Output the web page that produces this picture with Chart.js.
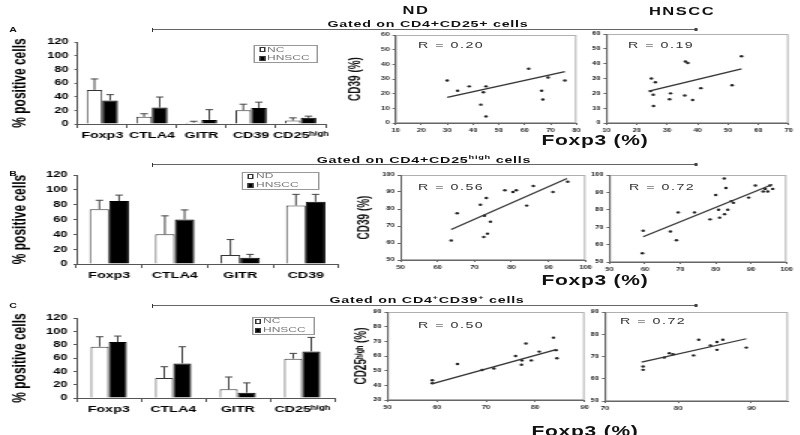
<!DOCTYPE html>
<html>
<head>
<meta charset="utf-8">
<script src="https://cdn.jsdelivr.net/npm/chart.js@4"></script>
<style>
html, body { margin: 0; padding: 0; background: #fff; overflow: hidden; }
#fig { position: absolute; left: 0; top: 0; width: 533.33px; height: 435px;
       transform: scaleX(1.5); transform-origin: 0 0;
       font-family: "Liberation Sans", Arial, sans-serif; color: #111; }
#fig div, #fig canvas { position: absolute; }
.t { white-space: nowrap; transform: translate(-50%, -50%); font-weight: bold; line-height: 1; }
.t sup { font-size: 0.65em; line-height: 0; }
</style>
</head>
<body>
<div id="fig"></div>
<script>
// ---- bar panels (mean, SD) ----
var catsA = ["Foxp3", "CTLA4", "GITR", "CD39", "CD25ʰⁱᵍʰ"];
var ncA = [50, 10.5, 2, 20, 5];
var ncSdA = [16, 4.5, 2, 9, 4];
var hnA = [34.5, 24, 6, 23.5, 9];
var hnSdA = [8.5, 15.5, 15, 8.5, 2.5];

var catsB = ["Foxp3", "CTLA4", "GITR", "CD39"];
var ndB = [74, 40, 12, 79];
var ndSdB = [12, 25, 21, 15];
var hnB = [85, 60, 8.5, 84];
var hnSdB = [8, 13, 4.5, 10];

var catsC = ["Foxp3", "CTLA4", "GITR", "CD25ʰⁱᵍʰ"];
var ncC = [77, 30, 13, 59];
var ncSdC = [15, 17, 18.5, 8];
var hnC = [84, 52, 8, 70];
var hnSdC = [9, 25, 14.7, 21];

// ---- scatter panels: Foxp3 (%) vs marker (%) ----
var ndAx = [30, 34, 38.5, 43, 44, 45, 45, 61.5, 69, 66.5, 67, 75.5];
var ndAy = [29, 22, 25, 12.5, 21, 25, 4.5, 37, 31, 22, 16, 29];
var ndAtx = [30, 75.5], ndAty = [17.5, 35];

var hnAx = [24.8, 26.1, 24.5, 25.4, 25.5, 31.1, 30.8, 35.8, 36, 36.8, 38.4, 41.1, 51.4, 54.5];
var hnAy = [30, 27.5, 21.5, 19, 11.5, 20, 16, 18.5, 41.5, 40.5, 15.5, 23.5, 25.5, 45];
var hnAtx = [24, 54.5], hnAty = [21.5, 36.5];

var ndBx = [63.7, 65.3, 71.6, 72.7, 72.5, 73.5, 73.2, 74.3, 78.2, 80.4, 81.3, 84.1, 85.9, 91.2, 95.2];
var ndBy = [61.5, 77.5, 82.5, 76, 63.5, 65.5, 86.5, 72.5, 91, 90, 91, 82, 93.5, 90, 96];
var ndBtx = [63.7, 95], ndBty = [68, 98];

var hnBx = [59.3, 59.5, 67.2, 68.9, 69.4, 74, 78.4, 80, 80.8, 81.1, 82.4, 82.9, 82.5, 83.4, 84.4, 85, 89.3, 91.2, 93.4, 94.7, 94, 96.1, 95.3];
var hnBy = [55, 68, 67.5, 62.5, 78.5, 78.5, 74.5, 88.5, 80, 75.5, 98, 92.5, 77.5, 80, 85, 84, 87, 94, 90.5, 90.5, 92, 92, 94];
var hnBtx = [59.5, 96], hnBty = [64.5, 94.5];

var ndCx = [59.1, 59.1, 64.2, 69.2, 71.6, 76, 77.2, 77.3, 78.1, 79.2, 80.8, 83.7, 84.2, 84.4];
var ndCy = [43.5, 41.5, 54.5, 50.5, 51.5, 60, 54, 57, 68.5, 57, 63, 72.5, 64, 58.5];
var ndCtx = [59, 84.4], ndCty = [41, 64.5];

var hnCx = [75.2, 75.2, 78.1, 78.8, 79.3, 82.1, 82.8, 84.4, 85.3, 85.3, 86.1, 89.3];
var hnCy = [65.5, 64, 69.5, 71.5, 71, 70.5, 77.5, 75, 73, 76.5, 77.5, 74];
var hnCtx = [75, 89.3], hnCty = [67.5, 78];

var rValues = ["0.20", "0.19", "0.56", "0.72", "0.50", "0.72"];

Chart.defaults.font.family = '"Liberation Sans", Arial, sans-serif';
Chart.defaults.color = "#111";
Chart.defaults.animation = false;

// the old figure is stretched sideways, so everything is drawn narrow and scaled
var SX = 1.5;
var fig = document.getElementById("fig");

function box(x, y, w, h) {
  var d = document.createElement("div");
  d.style.left = (x / SX) + "px";
  d.style.top = y + "px";
  if (w != null) d.style.width = (w / SX) + "px";
  if (h != null) d.style.height = h + "px";
  fig.appendChild(d);
  return d;
}

function label(html, x, y, size, o) {
  o = o || {};
  var d = box(x, y);
  d.className = "t";
  d.innerHTML = html;
  d.style.fontSize = size + "px";
  if (o.left) d.style.transform = "translate(0,-50%)";
  if (o.weight) d.style.fontWeight = o.weight;
  if (o.color) d.style.color = o.color;
  if (o.ls) d.style.letterSpacing = o.ls + "px";
  return d;
}

function bracket(y) {
  var l = box(153, y, 697 - 153, 0);
  l.style.borderTop = "1.5px solid #666";
  var a = box(152, y - 1, 1.5, 4);
  a.style.background = "#333";
  var b = box(695, y - 1, 2, 3);
  b.style.background = "#444";
}

function legendBox(r, names, rowY, sqX, txX) {
  var b = box(r[0], r[1], r[2] - r[0], r[3] - r[1]);
  b.style.border = "1px solid #999";
  b.style.boxSizing = "border-box";
  names.forEach(function (n, i) {
    var s = box(sqX, rowY[i] - 2.5, 6, 5);
    s.style.boxSizing = "border-box";
    s.style.border = "1px solid #333";
    s.style.background = i ? "#000" : "#fff";
    label(n, txX, rowY[i], 8, { left: true, weight: "normal", color: "#777" });
  });
}

var errorBars = {
  id: "errorBars",
  afterDatasetsDraw: function (chart) {
    var ctx = chart.ctx, y = chart.scales.y;
    chart.data.datasets.forEach(function (ds, i) {
      if (!ds.errors) return;
      chart.getDatasetMeta(i).data.forEach(function (bar, j) {
        var top = y.getPixelForValue(ds.data[j] + ds.errors[j]);
        ctx.save();
        ctx.strokeStyle = "#444";
        ctx.lineWidth = 1;
        ctx.beginPath();
        ctx.moveTo(bar.x, bar.y);
        ctx.lineTo(bar.x, top);
        ctx.moveTo(bar.x - 2.5, top);
        ctx.lineTo(bar.x + 2.5, top);
        ctx.stroke();
        ctx.restore();
      });
    });
  }
};

var frame = {
  id: "frame",
  beforeDraw: function (chart) {
    var a = chart.chartArea, ctx = chart.ctx;
    ctx.save();
    ctx.strokeStyle = "#b0b0b0";
    ctx.lineWidth = 1;
    ctx.strokeRect(a.left + 0.5, a.top + 0.5, a.right - a.left - 1, a.bottom - a.top - 1);
    ctx.restore();
  }
};

// rect = plot area [left, top, right, bottom] in page pixels
function place(rect, yW, xH, cfg) {
  var L = rect[0], T = rect[1], R = rect[2], B = rect[3];
  var padT = 8;
  var yWu = yW / SX, areaW = (R - L) / SX;
  var cw = Math.ceil(yWu + areaW + 8);
  var c = document.createElement("canvas");
  c.width = cw;
  c.height = B - T + padT + xH;
  c.style.left = ((L - yW) / SX) + "px";
  c.style.top = (T - padT) + "px";
  fig.appendChild(c);
  cfg.options.responsive = false;
  cfg.options.layout = { padding: { top: padT, right: cw - yWu - areaW, left: 0, bottom: 0 } };
  cfg.options.scales.y.afterFit = function (s) { s.width = yWu; };
  cfg.options.scales.x.afterFit = function (s) { s.height = xH; };
  return new Chart(c, cfg);
}

function barChart(rect, yW, cats, names, vals, sds, catPct) {
  return place(rect, yW, 22, {
    type: "bar",
    data: {
      labels: cats,
      datasets: [
        { label: names[0], data: vals[0], errors: sds[0], backgroundColor: "#fff", borderColor: "#333", borderWidth: 1 },
        { label: names[1], data: vals[1], errors: sds[1], backgroundColor: "#000", borderColor: "#000", borderWidth: 1 }
      ]
    },
    options: {
      datasets: { bar: { barPercentage: 1, categoryPercentage: catPct } },
      plugins: { legend: { display: false }, tooltip: { enabled: false } },
      scales: {
        x: {
          grid: { drawOnChartArea: false, tickLength: 4, color: "#555" },
          border: { color: "#555" },
          ticks: { font: { size: 9.5, weight: "bold" }, color: "#000", padding: 2, maxRotation: 0, autoSkip: false }
        },
        y: {
          min: 0, max: 120,
          grid: { drawOnChartArea: false, tickLength: 2, color: "#555" },
          border: { color: "#555" },
          ticks: { stepSize: 20, autoSkip: false, font: { size: 8.5, weight: "bold" }, color: "#000", padding: 4 },
          title: { display: true, text: "% positive cells", font: { size: 12, weight: "bold" }, color: "#000", padding: { top: 1, bottom: 0 } }
        }
      }
    },
    plugins: [errorBars]
  });
}

function scatterChart(rect, yW, xr, yr, xs, ys, tx, ty, ytitle) {
  var pts = xs.map(function (x, i) { return { x: x, y: ys[i] }; });
  var line = tx.map(function (x, i) { return { x: x, y: ty[i] }; });
  return place(rect, yW, 14, {
    type: "scatter",
    data: {
      datasets: [
        { data: line, showLine: true, borderColor: "#333", borderWidth: 1.2, pointRadius: 0 },
        { data: pts, pointRadius: 1.2, backgroundColor: "#222", borderWidth: 0 }
      ]
    },
    options: {
      plugins: { legend: { display: false }, tooltip: { enabled: false } },
      scales: {
        x: {
          type: "linear", min: xr[0], max: xr[1],
          grid: { drawOnChartArea: false, tickLength: 2, color: "#666" },
          border: { color: "#666" },
          ticks: { stepSize: 10, includeBounds: false, autoSkip: false, padding: 3, color: "#222", font: { size: 5, weight: "bold" } }
        },
        y: {
          min: yr[0], max: yr[1],
          grid: { drawOnChartArea: false, tickLength: 2, color: "#666" },
          border: { color: "#666" },
          ticks: { stepSize: 10, autoSkip: false, padding: 2, color: "#222", font: { size: 5, weight: "bold" } },
          title: ytitle ? { display: true, text: ytitle, font: { size: 10, weight: "bold" }, padding: { top: 1, bottom: 0 } } : { display: false }
        }
      }
    },
    plugins: [frame]
  });
}

// ---- row A ----
barChart([77, 41, 325, 124], 70, catsA, ["NC", "HNSCC"], [ncA, hnA], [ncSdA, hnSdA], 0.63);
scatterChart([396, 35, 577, 123], 50.5, [10, 80], [0, 60], ndAx, ndAy, ndAtx, ndAty, "CD39 (%)");
scatterChart([606, 34, 788, 123], 20, [10, 70], [0, 60], hnAx, hnAy, hnAtx, hnAty, null);

// ---- row B ----
barChart([76, 174, 338, 264], 69, catsB, ["ND", "HNSCC"], [ndB, hnB], [ndSdB, hnSdB], 0.6);
scatterChart([400, 175, 585, 260], 46.5, [50, 100], [50, 100], ndBx, ndBy, ndBtx, ndBty, "CD39 (%)");
scatterChart([609, 175, 786, 262], 20, [50, 100], [50, 100], hnBx, hnBy, hnBtx, hnBty, null);

// ---- row C ----
barChart([76, 317, 334, 398], 69, catsC, ["NC", "HNSCC"], [ncC, hnC], [ncSdC, hnSdC], 0.56);
scatterChart([388, 312, 585, 400], 36.5, [50, 90], [30, 90], ndCx, ndCy, ndCtx, ndCty, "CD25ʰⁱᵍʰ (%)");
scatterChart([605, 312, 788, 401], 20, [70, 95], [50, 90], hnCx, hnCy, hnCtx, hnCty, null);

// ---- legends ----
legendBox([253, 45, 318, 63], ["NC", "HNSCC"], [49.5, 58], 259, 267);
legendBox([242, 172, 320, 190], ["ND", "HNSCC"], [176, 185], 247, 256);
legendBox([252, 317, 315, 335], ["NC", "HNSCC"], [321, 330], 255, 263);

// ---- headers and annotations ----
label("A", 13, 29, 7);
label("B", 13, 173, 7);
label("C", 13, 305, 7);
label("ND", 416, 10, 11, { ls: 1 });
label("HNSCC", 682, 11, 11, { ls: 1 });

label("Gated on CD4+CD25+ cells", 428, 24, 9.5, { ls: 0.5 });
label("Gated on CD4+CD25<sup>high</sup> cells", 424, 160, 9.5, { ls: 0.5 });
label("Gated on CD4<sup>+</sup>CD39<sup>+</sup> cells", 427, 300, 9.5, { ls: 0.5 });
bracket(29);
bracket(164);
bracket(305);

label("Foxp3 (%)", 595, 140, 14, { ls: 0.5 });
label("Foxp3 (%)", 595, 280, 14, { ls: 0.5 });
label("Foxp3 (%)", 585, 431, 14, { ls: 0.5 });

var rPos = [[418, 45], [628, 45], [418, 187], [629, 187], [418, 325], [620, 321]];
rPos.forEach(function (p, i) {
  label("R = " + rValues[i], p[0], p[1], 9.5, { left: true, weight: "normal", color: "#333", ls: 1 });
});
</script>
</body>
</html>
